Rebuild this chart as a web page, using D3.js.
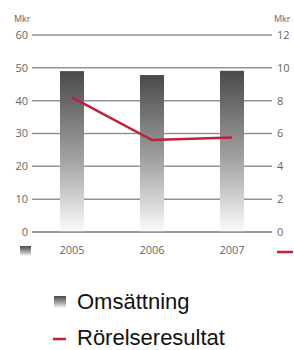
<!DOCTYPE html>
<html>
<head>
<meta charset="utf-8">
<script src="https://d3js.org/d3.v7.min.js"></script>
<style>
  body { margin: 0; background: #fff; }
  .tick-label { font-family: "Open Sans", sans-serif; font-size: 11px; fill: #666; }
  .legend-label { font-family: "Liberation Sans", Arial, sans-serif; font-size: 22px; fill: #111; }
</style>
</head>
<body>
<svg id="chart"></svg>
<script>
// data
var years = ["2005", "2006", "2007"];
var omsattning = [49.0, 47.8, 49.1];        // left axis, Mkr
var rorelseresultat = [8.2, 5.6, 5.75];     // right axis, Mkr
var leftTicks = [0, 10, 20, 30, 40, 50, 60];
var rightTicks = [0, 2, 4, 6, 8, 10, 12];
var legendNames = ["Omsättning", "Rörelseresultat"];

var width = 294, height = 350;
var plotLeft = 32, plotRight = 272, plotTop = 35, plotBottom = 232;
var red = "#c0203a";

var svg = d3.select("#chart")
  .attr("width", width)
  .attr("height", height);

var defs = svg.append("defs");
var grad = defs.append("linearGradient")
  .attr("id", "barGrad")
  .attr("x1", 0).attr("y1", 0).attr("x2", 0).attr("y2", 1);
grad.append("stop").attr("offset", "0%").attr("stop-color", "#4a4a4a");
grad.append("stop").attr("offset", "55%").attr("stop-color", "#a3a3a3");
grad.append("stop").attr("offset", "100%").attr("stop-color", "#fbfbfb");

var x = d3.scaleBand()
  .domain(years)
  .range([plotLeft, plotRight])
  .paddingInner(0.7)
  .paddingOuter(0.35);

var yLeft = d3.scaleLinear().domain([0, 60]).range([plotBottom, plotTop]);
var yRight = d3.scaleLinear().domain([0, 12]).range([plotBottom, plotTop]);

// gridlines
svg.append("g").selectAll("line")
  .data(leftTicks)
  .enter().append("line")
  .attr("x1", plotLeft).attr("x2", plotRight)
  .attr("y1", function(d) { return yLeft(d); })
  .attr("y2", function(d) { return yLeft(d); })
  .attr("stroke", "#939393")
  .attr("stroke-width", 1.5);

// bars
svg.append("g").selectAll("rect")
  .data(omsattning)
  .enter().append("rect")
  .attr("x", function(d, i) { return x(years[i]); })
  .attr("width", x.bandwidth())
  .attr("y", function(d) { return yLeft(d); })
  .attr("height", function(d) { return yLeft(0) - yLeft(d); })
  .attr("fill", "url(#barGrad)");

// zero line on top
svg.append("line")
  .attr("x1", plotLeft).attr("x2", plotRight)
  .attr("y1", yLeft(0)).attr("y2", yLeft(0))
  .attr("stroke", "#939393")
  .attr("stroke-width", 1.5);

// line series
var line = d3.line()
  .x(function(d, i) { return x(years[i]) + x.bandwidth() / 2; })
  .y(function(d) { return yRight(d); });

svg.append("path")
  .datum(rorelseresultat)
  .attr("d", line)
  .attr("fill", "none")
  .attr("stroke", red)
  .attr("stroke-width", 2.5);

// axis labels
svg.append("g").selectAll("text")
  .data(leftTicks)
  .enter().append("text")
  .attr("class", "tick-label")
  .attr("x", 28)
  .attr("y", function(d) { return yLeft(d); })
  .attr("dy", "0.35em")
  .attr("text-anchor", "end")
  .text(function(d) { return d; });

svg.append("g").selectAll("text")
  .data(rightTicks)
  .enter().append("text")
  .attr("class", "tick-label")
  .attr("x", 277)
  .attr("y", function(d) { return yRight(d); })
  .attr("dy", "0.35em")
  .text(function(d) { return d; });

svg.append("text").attr("class", "tick-label")
  .attr("x", 14).attr("y", 22).style("font-size", "9px").text("Mkr");
svg.append("text").attr("class", "tick-label")
  .attr("x", 274).attr("y", 22).style("font-size", "9px").text("Mkr");

svg.append("g").selectAll("text")
  .data(years)
  .enter().append("text")
  .attr("class", "tick-label")
  .attr("x", function(d) { return x(d) + x.bandwidth() / 2; })
  .attr("y", 254)
  .attr("text-anchor", "middle")
  .text(function(d) { return d; });

// small key marks under the axes
svg.append("rect")
  .attr("x", 20).attr("y", 246).attr("width", 11).attr("height", 10)
  .attr("fill", "url(#barGrad)");
svg.append("line")
  .attr("x1", 277).attr("x2", 293).attr("y1", 252).attr("y2", 252)
  .attr("stroke", red).attr("stroke-width", 2.5);

// legend
var legend = svg.append("g");
legend.append("rect")
  .attr("x", 54).attr("y", 296).attr("width", 12).attr("height", 12)
  .attr("fill", "url(#barGrad)");
legend.append("text").attr("class", "legend-label")
  .attr("x", 77).attr("y", 309).text(legendNames[0]);
legend.append("line")
  .attr("x1", 53).attr("x2", 66).attr("y1", 339).attr("y2", 339)
  .attr("stroke", red).attr("stroke-width", 2.5);
legend.append("text").attr("class", "legend-label")
  .attr("x", 77).attr("y", 345).text(legendNames[1]);
</script>
</body>
</html>
